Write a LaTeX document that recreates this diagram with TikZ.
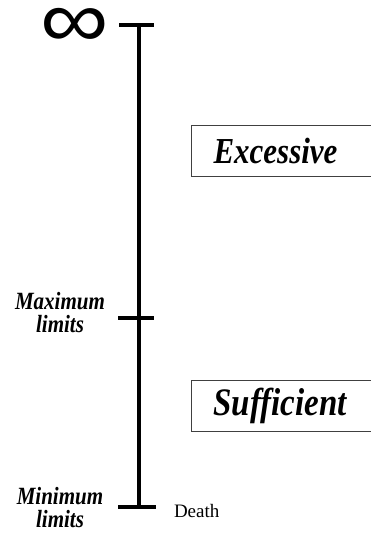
\documentclass[tikz,border=0pt]{standalone}
\usepackage{fontspec}
\setmainfont{Liberation Serif}
\newfontfamily\symfont{Liberation Sans}
\usetikzlibrary{positioning}

\newcommand{\tallx}[1]{\scalebox{1}[1.18]{#1}}

\tikzset{
  limlabel/.style={font=\fontsize{21}{23}\selectfont\bfseries\itshape,align=center,inner sep=0pt},
  zonebox/.style={draw=black!75,line width=1pt,anchor=west,minimum height=51pt,
    text width=200pt,inner xsep=22pt,align=left,font=\bfseries\itshape},
}

\begin{document}
\begin{tikzpicture}[x=1pt,y=-1pt,line width=4pt]
\useasboundingbox (0,0) rectangle (371,533);
\clip (0,0) rectangle (371,533);

\coordinate (T) at (139,25);
\coordinate (M) at (139,318);
\coordinate (B) at (139,507);

% scale
\draw[line cap=butt](T)--(B);
\draw(T)++(-20,0)--++(35,0);
\draw(M)++(-21,0)--++(36,0);
\draw(B)++(-21,0)--++(38,0);

\node[inner sep=0pt,anchor=base] (inf) at (75,47) {\symfont\fontsize{96}{96}\selectfont\raisebox{0pt}[0pt][0pt]{\scalebox{1}[0.85]{∞}}};

\node[limlabel] (maxlim) at (60,313) {\tallx{Maximum}\\\tallx{limits}};
\node[limlabel] (minlim) at (60,508) {\tallx{Minimum}\\\tallx{limits}};
\node[font=\fontsize{19}{19}\selectfont,anchor=west,inner sep=0pt] (death) at (172,511) {Death};

% zones
\node[zonebox,font=\fontsize{31}{31}\selectfont\bfseries\itshape] (excess) at (191,151) {\tallx{Excessive}};
\node[zonebox,font=\fontsize{33}{33}\selectfont\bfseries\itshape] (suff) at (191,406) {\tallx{Sufficient}};

\end{tikzpicture}
\end{document}
